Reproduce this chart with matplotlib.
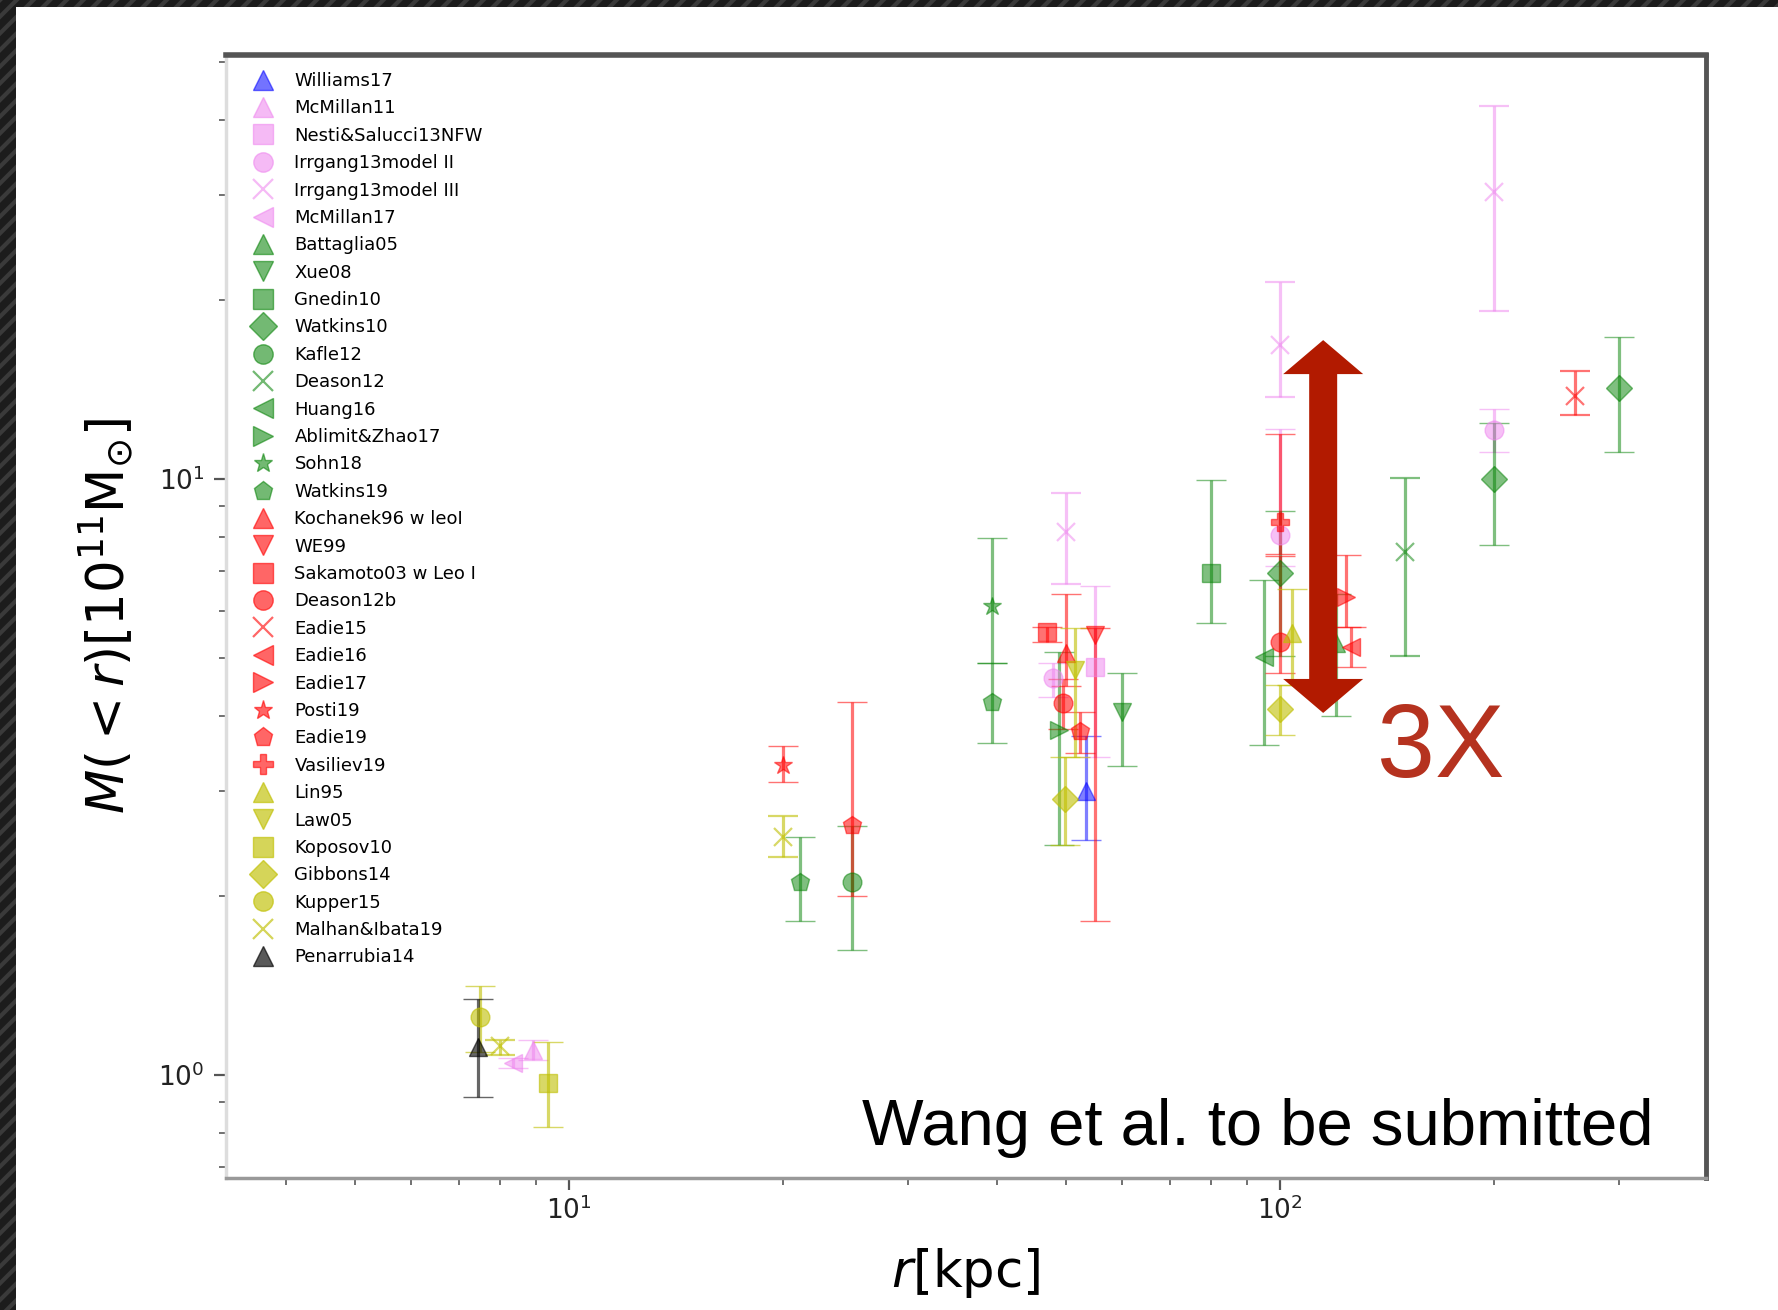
import numpy as np
import matplotlib
matplotlib.use("Agg")
import matplotlib.pyplot as plt
from matplotlib.lines import Line2D
from matplotlib.patches import Polygon, Rectangle
from matplotlib.transforms import IdentityTransform

# ---------------- data ----------------
names = ["Williams17", "McMillan11", "Nesti&Salucci13NFW", "Irrgang13model II",
         "Irrgang13model III", "McMillan17", "Battaglia05", "Xue08", "Gnedin10",
         "Watkins10", "Kafle12", "Deason12", "Huang16", "Ablimit&Zhao17", "Sohn18",
         "Watkins19", "Kochanek96 w leoI", "WE99", "Sakamoto03 w Leo I", "Deason12b",
         "Eadie15", "Eadie16", "Eadie17", "Posti19", "Eadie19", "Vasiliev19",
         "Lin95", "Law05", "Koposov10", "Gibbons14", "Kupper15", "Malhan&Ibata19",
         "Penarrubia14"]
markers = ["^", "^", "s", "o", "x", "<", "^", "v", "s", "D", "o", "x", "<", ">", "*",
           "p", "^", "v", "s", "o", "x", "<", ">", "*", "p", "P",
           "^", "v", "s", "D", "o", "x", "^"]
colors = ["blue"] + ["violet"] * 5 + ["green"] * 10 + ["red"] * 10 + ["y"] * 6 + ["k"]

# radius [kpc], enclosed mass [1e11 Msun], lower / upper errors
r_kpc = [[53.3], [8.9], [55.0], [47.9, 100, 200], [50, 100, 200], [8.35], [120],
         [60], [80], [100, 200, 300], [25], [150], [95], [48.9], [39.4], [21.1, 39.4],
         [50], [55], [47.0], [49.6, 100], [260], [126], [124], [20], [25, 52.3], [100],
         [104], [51.5], [9.33], [49.8, 100], [7.5], [8.0, 20], [7.45]]
mass = [[3.0], [1.10], [4.84], [4.63, 8.05, 12.1], [8.16, 16.8, 30.3], [1.046], [5.3],
        [4.07], [6.95], [6.95, 10.0, 14.2], [2.11], [7.55], [5.03], [3.79], [6.12],
        [2.11, 4.23], [5.10], [5.47], [5.53], [4.21, 5.33], [13.8], [5.23], [6.35], [3.31],
        [2.63, 3.77], [8.48], [5.51], [4.78], [0.968], [2.91, 4.12], [1.25],
        [1.12, 2.51], [1.116]]
err_lo = [[0.52], [0.04], [1.42], [0.32, 0.9, 1.0], [1.5, 3.1, 11.2], [0.02], [1.3],
          [0.77], [1.21], [1.9, 2.25, 3.1], [0.49], [2.5], [1.45], [1.36], [1.2],
          [0.3, 0.62], [0.6], [3.66], [0.2], [0.4, 0.6], [1.0], [0.39], [0.7], [0.21],
          [0.63, 0.3], [1.0], [1.0], [1.36], [0.151], [0.48, 0.4], [0.155],
          [0.04, 0.19], [0.196]]
err_hi = [[0.70], [0.045], [1.78], [0.28, 4.1, 0.98], [1.3, 4.6, 12.0], [0.02], [1.1],
          [0.65], [3.0], [1.9, 2.4, 3.1], [0.51], [2.5], [1.74], [1.34], [1.83],
          [0.4, 0.69], [1.3], [0.15], [0.12], [0.4, 2.1], [1.4], [0.42], [1.1], [0.25],
          [1.6, 0.3], [3.4], [1.02], [0.84], [0.169], [0.51, 0.39], [0.16],
          [0.025, 0.21], [0.224]]

alpha_of = {"blue": 0.5, "violet": 0.5, "green": 0.5, "red": 0.55, "y": 0.6, "k": 0.6}

# annotation
ARROW_R, ARROW_TOP, ARROW_BOT = 115.0, 17.1, 4.05

# ---------------- figure ----------------
W, H = 1778, 1310
fig = plt.figure(figsize=(W / 100, H / 100), dpi=100)
fig.patch.set_facecolor("white")

L, R_, T, B = 226, 1706, 55, 1178
ax = fig.add_axes([L / W, (H - B) / H, (R_ - L) / W, (B - T) / H])
ax.set_xscale("log")
ax.set_yscale("log")
ax.set_xlim(3.293, 397.3)
ax.set_ylim(0.6718, 51.44)

for name, mk, c, rr, mm, lo, hi in zip(names, markers, colors, r_kpc, mass, err_lo, err_hi):
    a = alpha_of[c]
    mew = 1.6 if mk == "x" else 1.0
    ax.errorbar(rr, mm, yerr=[lo, hi], fmt=mk, color=c, alpha=a, ms=13.5, mew=mew,
                capsize=11, elinewidth=2.3, capthick=2.3, linestyle="none")

# legend with marker-only handles
handles = [Line2D([], [], marker=mk, color=c, alpha=alpha_of[c] + 0.05, linestyle="none",
                  ms=14, mew=(1.6 if mk == "x" else 1.0))
           for mk, c in zip(markers, colors)]
leg = ax.legend(handles, names, loc="upper left", frameon=False, fontsize=13,
                handlelength=1.2, handletextpad=1.15, labelspacing=0.52,
                borderpad=0, borderaxespad=0,
                bbox_to_anchor=(252 / W, (H - 72) / H), bbox_transform=fig.transFigure)

# axes styling
ax.tick_params(which="major", length=8.5, width=1.6, color="#555555", labelsize=19,
               labelcolor="#222222")
ax.tick_params(which="minor", length=5, width=1.3, color="#666666")
ax.tick_params(axis="x", which="major", pad=5)
ax.tick_params(axis="y", which="major", pad=7)
ax.spines["top"].set_color("#555555")
ax.spines["top"].set_linewidth(4)
ax.spines["right"].set_color("#555555")
ax.spines["right"].set_linewidth(3.5)
ax.spines["bottom"].set_color("#999999")
ax.spines["bottom"].set_linewidth(2.5)
ax.spines["left"].set_color("#dddddd")
ax.spines["left"].set_linewidth(2.5)

ax.set_xlabel(r"$r$[kpc]", fontsize=37)
ax.set_ylabel(r"$M(<r)[10^{11}\mathrm{M}_{\odot}]$", fontsize=37)
ax.xaxis.set_label_coords(0.5, -(1246 - B) / (B - T))
ax.yaxis.set_label_coords(-(L - 136) / (R_ - L), 0.5)

# double-headed arrow
xc, ytop = ax.transData.transform((ARROW_R, ARROW_TOP))
_, ybot = ax.transData.transform((ARROW_R, ARROW_BOT))
sh, hh, hl = 14, 40, 34
verts = [(xc, ytop), (xc + hh, ytop - hl), (xc + sh, ytop - hl), (xc + sh, ybot + hl),
         (xc + hh, ybot + hl), (xc, ybot), (xc - hh, ybot + hl), (xc - sh, ybot + hl),
         (xc - sh, ytop - hl), (xc - hh, ytop - hl)]
fig.add_artist(Polygon(verts, closed=True, transform=IdentityTransform(),
                       facecolor="#b21a00", edgecolor="none", zorder=10))

fig.text(1377 / W, (H - 777) / H, "3X", fontsize=75, color="#b5321f",
         family="Liberation Sans", ha="left", va="baseline")
fig.text(862 / W, (H - 1145) / H, "Wang et al. to be submitted", fontsize=47,
         color="black", family="Liberation Sans", ha="left", va="baseline")

# dark screenshot border
plt.rcParams["hatch.linewidth"] = 3
fig.add_artist(Rectangle((0, 0), 16 / W, 1, transform=fig.transFigure,
                         facecolor="#1c1c1c", edgecolor="#3a3a3a", hatch="//", lw=0))
fig.add_artist(Rectangle((0, 1 - 7 / H), 1, 7 / H, transform=fig.transFigure,
                         facecolor="#1c1c1c", edgecolor="#3a3a3a", hatch="//", lw=0))

fig.savefig("out.png", dpi=100)
